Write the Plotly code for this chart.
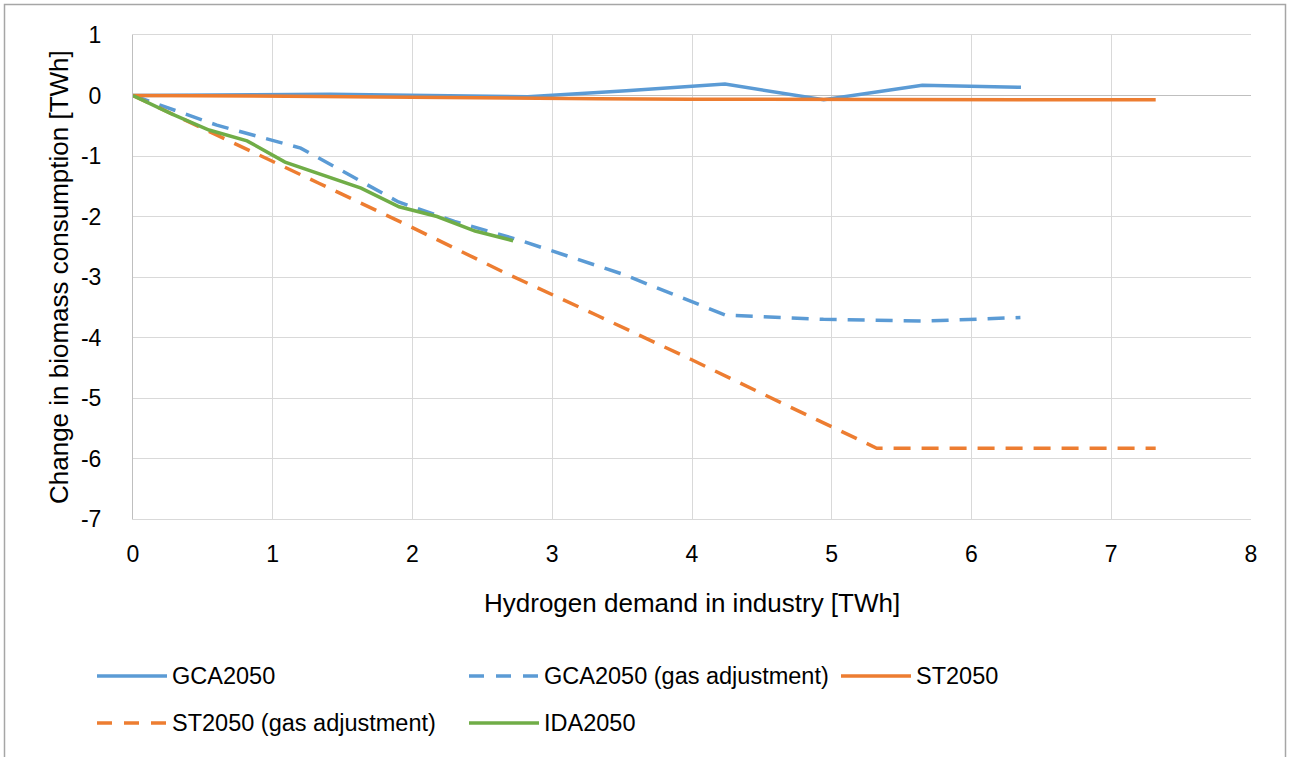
import plotly.graph_objects as go

# ---- data -----------------------------------------------------------------
gca_x = [0, 0.706, 1.412, 2.118, 2.824, 3.53, 4.236, 4.942, 5.648, 6.354]
gca_y = [0, 0.01, 0.02, 0.0, -0.02, 0.08, 0.19, -0.07, 0.17, 0.135]

gca_gas_x = [0, 0.6, 1.2, 1.55, 1.9, 2.3, 2.75, 3.5, 4.24, 4.94, 5.65, 6.35]
gca_gas_y = [0, -0.49, -0.87, -1.31, -1.76, -2.08, -2.38, -2.95, -3.63, -3.70, -3.73, -3.67]

st_x = [0, 0.665, 1.33, 1.996, 2.661, 3.326, 3.991, 4.657, 5.322, 5.987, 6.652, 7.318]
st_y = [0, -0.005, -0.015, -0.03, -0.045, -0.055, -0.06, -0.065, -0.07, -0.07, -0.07, -0.07]
st_gas_y = [0, -0.72, -1.45, -2.18, -2.93, -3.64, -4.36, -5.10, -5.83, -5.83, -5.83, -5.83]

ida_x = [0, 0.272, 0.544, 0.816, 1.088, 1.36, 1.632, 1.904, 2.176, 2.448, 2.72]
ida_y = [0, -0.30, -0.57, -0.75, -1.10, -1.31, -1.53, -1.84, -2.00, -2.24, -2.40]

x_ticks = [0, 1, 2, 3, 4, 5, 6, 7, 8]
x_tick_text = ["0", "1", "2", "3", "4", "5", "6", "7", "8"]
y_ticks = [1, 0, -1, -2, -3, -4, -5, -6, -7]
y_tick_text = ["1", "0", "-1", "-2", "-3", "-4", "-5", "-6", "-7"]

x_title = "Hydrogen demand in industry [TWh]"
y_title = "Change in biomass consumption [TWh]"

# ---- styling --------------------------------------------------------------
BLUE = "#5B9BD5"
ORANGE = "#ED7D31"
GREEN = "#70AD47"
GRID = "#D9D9D9"
AXIS = "#BFBFBF"
FONT = "Liberation Sans, Arial, sans-serif"
FS_TICK = 23
FS_LEGEND = 23.5
FS_TITLE = 26
DASH = "17px,11px"
LW = 3.5

W, H = 1290, 757
ML, MR, MT, MB = 133, 39, 35, 238
PW, PH = W - ML - MR, H - MT - MB


def px(xp):
    return (xp - ML) / PW


def py(yp):
    return (H - MB - yp) / PH


series = [
    ("GCA2050", gca_x, gca_y, BLUE, "solid"),
    ("GCA2050 (gas adjustment)", gca_gas_x, gca_gas_y, BLUE, DASH),
    ("ST2050", st_x, st_y, ORANGE, "solid"),
    ("ST2050 (gas adjustment)", st_x, st_gas_y, ORANGE, DASH),
    ("IDA2050", ida_x, ida_y, GREEN, "solid"),
]

fig = go.Figure()
for name, xs, ys, col, dash in series:
    fig.add_trace(go.Scatter(
        x=xs, y=ys, name=name, mode="lines",
        line=dict(color=col, width=LW, dash=dash),
        showlegend=False,
    ))

shapes = []
annotations = []

# legend drawn as line samples plus labels, two rows of three columns
legend_pos = [(97, 676), (469, 676), (841, 676), (97, 723), (469, 723)]
for (name, _, _, col, dash), (lx, ly) in zip(series, legend_pos):
    shapes.append(dict(
        type="line", xref="paper", yref="paper",
        x0=px(lx), x1=px(lx + 70), y0=py(ly), y1=py(ly),
        line=dict(color=col, width=LW, dash="15px,12px" if dash != "solid" else "solid"),
    ))
    annotations.append(dict(
        text=name, xref="paper", yref="paper", x=px(lx + 73), y=py(ly),
        xanchor="left", yanchor="middle", showarrow=False,
        font=dict(family=FONT, size=FS_LEGEND, color="#000000"),
    ))

# axis titles
annotations.append(dict(
    text=x_title, xref="paper", yref="paper", x=0.5, y=py(603),
    xanchor="center", yanchor="middle", showarrow=False,
    font=dict(family=FONT, size=FS_TITLE, color="#000000"),
))
annotations.append(dict(
    text=y_title, xref="paper", yref="paper", x=px(59), y=0.5,
    xanchor="center", yanchor="middle", showarrow=False, textangle=-90,
    font=dict(family=FONT, size=FS_TITLE, color="#000000"),
))

# chart border
shapes.append(dict(
    type="rect", xref="paper", yref="paper",
    x0=px(4.5), x1=px(1285.5), y0=py(800), y1=py(4.5),
    line=dict(color="#A6A6A6", width=1.5), fillcolor="rgba(0,0,0,0)",
    layer="below",
))

fig.update_layout(
    width=W, height=H,
    margin=dict(l=ML, r=MR, t=MT, b=MB, pad=0),
    paper_bgcolor="white", plot_bgcolor="white",
    font=dict(family=FONT, size=FS_TICK, color="#000000"),
    shapes=shapes, annotations=annotations,
    showlegend=False,
)
fig.update_xaxes(
    range=[0, 8], tickvals=x_ticks, ticktext=x_tick_text,
    showgrid=True, gridcolor=GRID, gridwidth=1,
    zeroline=False, showline=True, linecolor=GRID, mirror=True,
    ticks="", ticklabelstandoff=14,
)
fig.update_yaxes(
    range=[-7, 1], tickvals=y_ticks, ticktext=y_tick_text,
    showgrid=True, gridcolor=GRID, gridwidth=1,
    zeroline=True, zerolinecolor=AXIS, zerolinewidth=1,
    showline=True, linecolor=AXIS, mirror=False,
    ticks="", ticklabelstandoff=26,
)

fig.write_html("out.html")
